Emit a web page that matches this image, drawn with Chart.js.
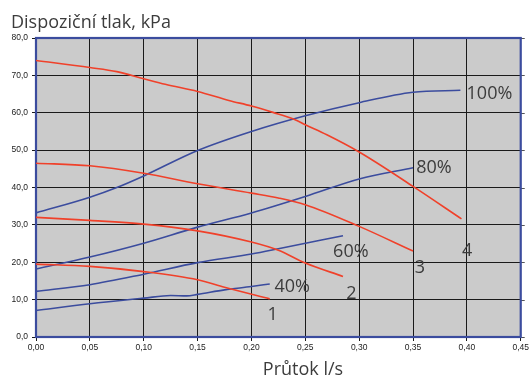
<!DOCTYPE html>
<html>
<head>
<meta charset="utf-8">
<script src="https://cdn.jsdelivr.net/npm/chart.js@4.4.1/dist/chart.umd.min.js"></script>
<style>
  html, body { margin: 0; padding: 0; background: #ffffff; }
  #wrap { width: 531px; height: 378px; }
</style>
</head>
<body>
<div id="wrap"><canvas id="c" width="531" height="378"></canvas></div>
<script>
// Pump characteristics: available pressure (kPa) vs. flow (l/s)
const xTickLabels = ['0,00', '0,05', '0,10', '0,15', '0,20', '0,25', '0,30', '0,35', '0,40', '0,45'];
const yTickLabels = ['0,0', '10,0', '20,0', '30,0', '40,0', '50,0', '60,0', '70,0', '80,0'];

// Pump speed curves (blue)
const speed100Flow = [0, 0.05, 0.075, 0.10, 0.15, 0.20, 0.25, 0.30, 0.35, 0.394];
const speed100Kpa  = [33.2, 37.4, 40.0, 43.1, 49.9, 55.0, 59.2, 62.7, 65.5, 66.0];
const speed80Flow  = [0, 0.05, 0.10, 0.15, 0.20, 0.25, 0.30, 0.35];
const speed80Kpa   = [18.2, 21.4, 25.1, 29.4, 33.2, 37.6, 42.3, 45.3];
const speed60Flow  = [0, 0.05, 0.10, 0.15, 0.20, 0.225, 0.285];
const speed60Kpa   = [12.2, 14.0, 16.8, 19.9, 22.2, 23.6, 27.1];
const speed40Flow  = [0, 0.05, 0.10, 0.125, 0.14, 0.15, 0.175, 0.20, 0.217];
const speed40Kpa   = [7.1, 8.9, 10.4, 11.1, 11.0, 11.4, 12.6, 13.5, 14.2];

// Available pressure curves (red)
const avail4Flow = [0, 0.05, 0.075, 0.10, 0.12, 0.15, 0.179, 0.20, 0.22, 0.24, 0.25, 0.27, 0.30, 0.35, 0.395];
const avail4Kpa  = [74.0, 72.1, 71.0, 69.1, 67.6, 65.7, 63.3, 61.8, 60.1, 58.2, 56.8, 54.1, 49.5, 40.3, 31.6];
const avail3Flow = [0, 0.05, 0.10, 0.15, 0.20, 0.225, 0.25, 0.30, 0.35];
const avail3Kpa  = [46.5, 45.8, 43.8, 41.0, 38.5, 37.2, 35.4, 29.6, 23.0];
const avail2Flow = [0, 0.05, 0.10, 0.15, 0.20, 0.225, 0.25, 0.285];
const avail2Kpa  = [32.0, 31.2, 30.2, 28.4, 25.4, 23.2, 19.8, 16.2];
const avail1Flow = [0, 0.05, 0.10, 0.15, 0.175, 0.217];
const avail1Kpa  = [19.5, 18.9, 17.5, 15.3, 13.3, 10.2];

// Curve names and where they are written (in data units)
const curveNames = ['100%', '80%', '60%', '40%', '4', '3', '2', '1'];
const nameFlow   = [0.3997, 0.353, 0.2758, 0.2214, 0.3955, 0.3515, 0.2880, 0.2150];
const nameKpa    = [65.1, 45.3, 22.9, 13.4, 23.1, 18.4, 11.6, 6.0];

const BLUE = '#3b4c9e';
const RED = '#f0412a';
const TEXT = '#3c3c3c';

function pts(xs, ys) { return xs.map((x, i) => ({ x: x, y: ys[i] })); }
function line(xs, ys, color) {
  return {
    data: pts(xs, ys),
    borderColor: color,
    borderWidth: 1.6,
    pointRadius: 0,
    fill: false,
    cubicInterpolationMode: 'monotone'
  };
}

const frame = {
  id: 'frame',
  beforeDraw(chart) {
    const { ctx, chartArea: a } = chart;
    ctx.save();
    ctx.fillStyle = '#cbcbcb';
    ctx.fillRect(a.left, a.top, a.right - a.left, a.bottom - a.top);
    ctx.restore();
  },
  beforeDatasetsDraw(chart) {
    const { ctx, chartArea: a, scales } = chart;
    ctx.save();
    // small outer ticks on the right edge
    ctx.strokeStyle = '#555';
    ctx.lineWidth = 1;
    scales.y.ticks.forEach(t => {
      const py = Math.round(scales.y.getPixelForValue(t.value)) + 0.5;
      ctx.beginPath();
      ctx.moveTo(a.right, py);
      ctx.lineTo(a.right + 4, py);
      ctx.stroke();
    });
    ctx.strokeStyle = BLUE;
    ctx.lineWidth = 2.2;
    ctx.strokeRect(a.left, a.top, a.right - a.left, a.bottom - a.top);
    ctx.restore();
  },
  afterDatasetsDraw(chart) {
    const { ctx, scales } = chart;
    ctx.save();
    ctx.fillStyle = TEXT;
    ctx.font = '18px "Open Sans"';
    ctx.textBaseline = 'middle';
    ctx.textAlign = 'left';
    curveNames.forEach((n, i) => {
      ctx.fillText(n, scales.x.getPixelForValue(nameFlow[i]), scales.y.getPixelForValue(nameKpa[i]));
    });
    // axis titles
    ctx.textBaseline = 'alphabetic';
    ctx.fillText('Dispoziční tlak, kPa', 11, 28);
    ctx.textAlign = 'center';
    ctx.fillText('Průtok l/s', 303, 375);
    ctx.restore();
  }
};

new Chart(document.getElementById('c'), {
  type: 'line',
  data: {
    datasets: [
      line(avail4Flow, avail4Kpa, RED),
      line(avail3Flow, avail3Kpa, RED),
      line(avail2Flow, avail2Kpa, RED),
      line(avail1Flow, avail1Kpa, RED),
      line(speed100Flow, speed100Kpa, BLUE),
      line(speed80Flow, speed80Kpa, BLUE),
      line(speed60Flow, speed60Kpa, BLUE),
      line(speed40Flow, speed40Kpa, BLUE)
    ]
  },
  options: {
    responsive: false,
    animation: false,
    devicePixelRatio: 1,
    layout: { padding: { left: 0, right: 7, top: 38, bottom: 0 } },
    plugins: { legend: { display: false }, tooltip: { enabled: false }, title: { display: false } },
    scales: {
      x: {
        type: 'linear',
        min: 0, max: 0.45,
        afterFit(s) { s.height = 41; },
        afterBuildTicks(s) { s.ticks = xTickLabels.map((_, i) => ({ value: i * 0.05 })); },
        ticks: {
          padding: 2,
          maxRotation: 0,
          autoSkip: false,
          color: '#222',
          font: { family: '"Liberation Sans", Arial, sans-serif', size: 8.5 },
          callback: (v, i) => xTickLabels[i]
        },
        grid: { color: '#1a1a1a', lineWidth: 1, tickLength: 4 },
        border: { display: false }
      },
      y: {
        type: 'linear',
        min: 0, max: 80,
        afterFit(s) { s.width = 36; },
        afterBuildTicks(s) { s.ticks = yTickLabels.map((_, i) => ({ value: i * 10 })); },
        ticks: {
          padding: 4,
          autoSkip: false,
          color: '#222',
          font: { family: '"Liberation Sans", Arial, sans-serif', size: 8.5 },
          callback: (v, i) => yTickLabels[i]
        },
        grid: { color: '#1a1a1a', lineWidth: 1, tickLength: 4 },
        border: { display: false }
      }
    }
  },
  plugins: [frame]
});
</script>
</body>
</html>
